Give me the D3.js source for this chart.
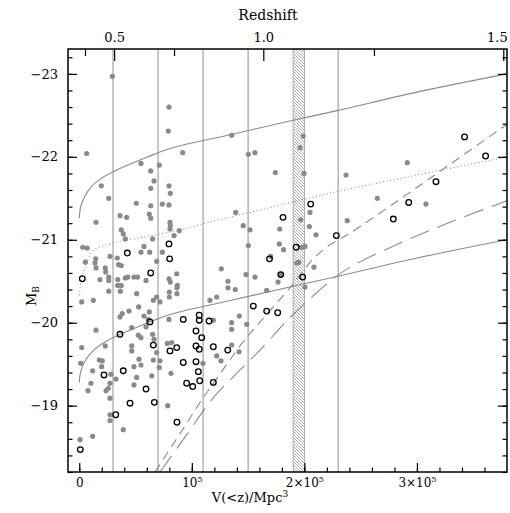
<!DOCTYPE html>
<html><head><meta charset="utf-8">
<script src="https://cdn.jsdelivr.net/npm/d3@7"></script>
<style>
body{margin:0;background:#fff}
svg{display:block}
text{font-family:"DejaVu Serif","Liberation Serif",serif;fill:#000}
</style>
</head><body>
<svg id="c" width="510" height="513"></svg>
<script>
// ---------- DATA (V in units of 10^3 Mpc^3, M = absolute B magnitude) ----------
const vMajorTicks = [0, 100, 200, 300];
const vMajorLabels = [["0",""],["10","5"],["2×10","5"],["3×10","5"]];
const vMinorTicks = d3.range(0, 380, 20);
const mMajorTicks = [-19, -20, -21, -22, -23];
const mMinorTicks = d3.range(-18.2, -23.31, -0.2).map(v => +v.toFixed(1));
const redshiftTicks = [0.25, 0.5, 0.75, 1.0, 1.25, 1.5];
const redshiftTickV = [5.1, 31.0, 84.2, 163.5, 261.8, 376.7];
const redshiftLabels = ["", "0.5", "", "1.0", "", "1.5"];
const binEdgesV = [30, 70, 110, 150, 230];
const hatchBandV = [190, 200];

const upperSolid = [[0,-21.26],[1.3,-21.40],[4.8,-21.52],[10.7,-21.64],[19.6,-21.74],[30,-21.82],[43.3,-21.90],[61.1,-22.00],[80.6,-22.10],[135,-22.27],[190,-22.44],[230,-22.56],[300,-22.78],[380,-23.00]];
const lowerSolid = [[0,-19.28],[1.3,-19.41],[4.8,-19.53],[10.7,-19.64],[19.6,-19.74],[30,-19.82],[43.3,-19.90],[61.1,-20.00],[80.6,-20.10],[135,-20.27],[190,-20.44],[230,-20.56],[300,-20.78],[380,-21.00]];
const dottedCurve = [[0,-20.33],[2,-20.52],[5,-20.66],[12.5,-20.87],[30,-20.96],[60,-21.04],[90,-21.12],[115,-21.21],[170,-21.39],[222,-21.56],[300,-21.78],[380,-22.00]];
const shortDashCurve = [[67.3,-18.20],[89.4,-18.66],[109.8,-19.09],[118.8,-19.26],[142.8,-19.72],[160.6,-20.01],[187.2,-20.42],[198.8,-20.62],[207.7,-20.77],[222.8,-20.94],[240.6,-21.08],[285,-21.49],[329.4,-21.91],[381.8,-22.41]];
const longDashCurve = [[71.7,-18.20],[93.9,-18.62],[118.8,-19.09],[142.8,-19.43],[160.6,-19.67],[187.2,-20.06],[222.8,-20.50],[240.6,-20.67],[285,-20.96],[329.4,-21.21],[381.8,-21.48]];

const filledGalaxies = [
[29.4,-22.97],[79.7,-22.60],[79.1,-22.31],[6.6,-22.04],[91.9,-22.05],[54.8,-21.92],[71.1,-21.90],[63.5,-21.83],[66.4,-21.71],[19.6,-21.65],
[63.5,-21.62],[79.7,-21.65],[80.9,-21.56],[26.2,-21.50],[50.7,-21.44],[63.5,-21.41],[73.8,-21.43],[79.7,-21.42],[62.2,-21.31],[63.5,-21.26],
[36.2,-21.29],[42.1,-21.27],[14.9,-21.21],[80.6,-21.21],[80.9,-21.17],[80.6,-21.13],[88.9,-21.11],[37.3,-21.12],[39.1,-21.07],[40.9,-21.01],
[84.2,-21.05],[65.2,-21.01],[3.1,-20.91],[7.1,-20.90],[57.5,-20.92],[54.8,-20.85],[62.6,-20.85],[73.8,-20.85],[27.3,-20.80],[33.8,-20.78],
[68.8,-20.74],[5.4,-20.73],[14.6,-20.77],[14.0,-20.72],[35.0,-20.70],[37.3,-20.69],[14.9,-20.66],[23.1,-20.66],[23.5,-20.61],[86.6,-20.59],
[18.4,-20.52],[26.2,-20.55],[26.2,-20.51],[34.2,-20.52],[40.9,-20.54],[43.0,-20.55],[48.6,-20.55],[51.8,-20.55],[59.3,-20.51],[79.7,-20.53],
[80.9,-20.49],[87.1,-20.45],[86.8,-20.42],[34.2,-20.45],[37.3,-20.45],[26.2,-20.38],[36.5,-20.38],[51.0,-20.35],[68.8,-20.31],[80.0,-20.37],
[80.0,-20.31],[86.8,-20.35],[12.5,-20.27],[2.2,-20.25],[65.8,-20.27],[71.7,-20.25],[52.8,-20.19],[38.2,-20.11],[44.2,-20.14],[36.2,-20.07],
[62.2,-20.13],[57.5,-20.08],[61.3,-20.04],[79.7,-20.04],[14.9,-19.91],[46.6,-19.94],[59.3,-19.95],[52.5,-19.85],[54.8,-19.82],[65.2,-19.86],
[66.4,-19.80],[78.2,-19.75],[82.1,-19.76],[23.1,-19.72],[46.6,-19.72],[46.6,-19.66],[68.8,-19.64],[2.2,-19.70],[17.8,-19.55],[20.5,-19.54],
[53.1,-19.56],[65.8,-19.55],[71.7,-19.54],[54.8,-19.49],[48.6,-19.47],[19.9,-19.47],[71.1,-19.46],[1.3,-19.51],[11.9,-19.42],[28.2,-19.38],
[32.6,-19.32],[51.0,-19.34],[64.4,-19.36],[81.5,-19.39],[10.4,-19.27],[27.3,-19.27],[25.8,-19.21],[23.8,-19.18],[7.8,-19.18],[48.6,-19.25],
[27.3,-19.09],[78.6,-19.00],[27.3,-18.89],[27.3,-18.82],[39.1,-18.71],[0.7,-18.59],[11.9,-18.63],
[135.4,-22.26],[199.0,-22.25],[150.2,-22.03],[156.1,-22.05],[196.1,-22.11],[174.2,-21.81],[199.7,-21.80],[237.0,-21.78],[291.4,-21.93],[264.8,-21.50],
[308.0,-21.43],[238.1,-21.23],[139.0,-21.33],[145.7,-21.17],[151.7,-21.12],[178.1,-21.13],[196.7,-21.24],[205.0,-21.33],[204.4,-21.16],[210.3,-21.06],
[150.2,-20.93],[177.7,-20.95],[181.5,-20.88],[170.1,-20.80],[197.6,-20.91],[200.5,-20.92],[193.2,-20.72],[195.0,-20.73],[126.2,-20.65],[208.5,-20.67],
[132.1,-20.50],[148.1,-20.58],[156.1,-20.55],[176.6,-20.49],[132.1,-20.42],[138.6,-20.40],[166.5,-20.39],[200.5,-20.43],[122.1,-20.31],[116.1,-20.27],
[142.2,-20.08],[135.4,-20.00],[135.4,-19.92],[119.1,-20.03],[148.8,-19.98],[109.9,-19.51],[135.4,-19.73],[141.9,-19.65],[122.1,-19.60],[125.9,-19.54],
[179.0,-20.58]
];
const openGalaxies = [
[2.7,-20.53],[42.7,-20.84],[79.7,-20.95],[80.3,-20.77],[63.5,-20.60],[36.2,-19.86],[62.8,-20.01],[92.4,-20.04],[106.6,-20.09],[106.6,-20.03],
[115.3,-20.02],[103.7,-19.90],[108.8,-19.82],[65.8,-19.73],[80.6,-19.66],[86.6,-19.70],[103.7,-19.72],[106.6,-19.68],[92.4,-19.52],[103.7,-19.53],
[105.8,-19.41],[107.0,-19.30],[95.4,-19.27],[100.8,-19.23],[39.1,-19.42],[22.0,-19.37],[59.3,-19.20],[66.7,-19.04],[45.1,-19.03],[32.4,-18.89],
[86.8,-18.80],[0.9,-18.47],[205.6,-21.43],[181.0,-21.27],[192.7,-20.91],[169.0,-20.77],[179.0,-20.58],[198.5,-20.55],[228.4,-21.05],[154.6,-20.20],
[166.5,-20.14],[176.3,-20.12],[119.1,-19.71],[131.9,-19.67],[119.1,-19.28],[342.3,-22.24],[361.0,-22.01],[316.9,-21.70],[292.7,-21.45],[279.0,-21.25]
];

// ---------- CHART ----------
const svg = d3.select("#c");
const L = 68, R = 507, T = 49, B = 472;
const x = d3.scaleLinear().domain([-10, 380]).range([L, R]);
const y = d3.scaleLinear().domain([-18.2, -23.3]).range([B, T]);
const grey = "#8a8a8a";

const defs = svg.append("defs");
defs.append("clipPath").attr("id","clip").append("rect")
  .attr("x",L).attr("y",T).attr("width",R-L).attr("height",B-T);
const pat = defs.append("pattern").attr("id","hatch").attr("patternUnits","userSpaceOnUse")
  .attr("width",3).attr("height",3);
pat.append("path").attr("d","M-1,-1L4,4M-1,2L1,4M2,-1L4,1")
  .attr("stroke","#8a8a8a").attr("stroke-width",0.7);

const plot = svg.append("g").attr("clip-path","url(#clip)");

// bin edges
plot.selectAll("line.bin").data(binEdgesV).join("line").attr("class","bin")
  .attr("x1",d=>x(d)).attr("x2",d=>x(d)).attr("y1",T).attr("y2",B)
  .attr("stroke","#999").attr("stroke-width",1.1);

// hatched band
plot.append("rect").attr("x",x(hatchBandV[0])).attr("y",T)
  .attr("width",x(hatchBandV[1])-x(hatchBandV[0])).attr("height",B-T)
  .attr("fill","url(#hatch)").attr("stroke","#999").attr("stroke-width",0.8);

const line = d3.line().x(d=>x(d[0])).y(d=>y(d[1])).curve(d3.curveCatmullRom);
const curves = [
  [upperSolid, null],[lowerSolid, null],[dottedCurve,"1,2.6"],
  [shortDashCurve,"9,6"],[longDashCurve,"20,9"]
];
curves.forEach(([data,dash])=>{
  plot.append("path").datum(data).attr("d",line).attr("fill","none")
    .attr("stroke",grey).attr("stroke-width",1.1)
    .attr("stroke-dasharray",dash);
});

// points
plot.selectAll("circle.f").data(filledGalaxies).join("circle").attr("class","f")
  .attr("cx",d=>x(d[0])).attr("cy",d=>y(d[1])).attr("r",2.6).attr("fill",grey);
plot.selectAll("circle.o").data(openGalaxies).join("circle").attr("class","o")
  .attr("cx",d=>x(d[0])).attr("cy",d=>y(d[1])).attr("r",2.8)
  .attr("fill","none").attr("stroke","#000").attr("stroke-width",1.3);

// axes
function styleAxis(g){ g.select(".domain").remove(); g.selectAll(".tick line").attr("stroke","#000").attr("stroke-width",1.2); }
svg.append("g").attr("transform",`translate(0,${B})`)
  .call(d3.axisBottom(x).tickValues(vMinorTicks).tickSize(-4.5).tickFormat(""))
  .call(styleAxis);
const bx = svg.append("g").attr("transform",`translate(0,${B})`)
  .call(d3.axisBottom(x).tickValues(vMajorTicks).tickSize(-9).tickPadding(6).tickFormat(""))
  .call(styleAxis);
bx.selectAll(".tick text").each(function(d,i){
  const t = d3.select(this).attr("font-size",12).attr("font-family",null);
  t.append("tspan").text(vMajorLabels[i][0]);
  if (vMajorLabels[i][1]) t.append("tspan").attr("font-size",8).attr("dy",-4.5).text(vMajorLabels[i][1]);
});

svg.append("g").attr("transform",`translate(${L},0)`)
  .call(d3.axisLeft(y).tickValues(mMinorTicks).tickSize(-4.5).tickFormat("")).call(styleAxis);
svg.append("g").attr("transform",`translate(${L},0)`)
  .call(d3.axisLeft(y).tickValues(mMajorTicks).tickSize(-9).tickPadding(10).tickFormat(d=>"−"+Math.abs(d)))
  .call(styleAxis).selectAll("text").attr("font-size",13).attr("font-family",null);
svg.append("g").attr("transform",`translate(${R},0)`)
  .call(d3.axisRight(y).tickValues(mMinorTicks).tickSize(-4.5).tickFormat("")).call(styleAxis);
svg.append("g").attr("transform",`translate(${R},0)`)
  .call(d3.axisRight(y).tickValues(mMajorTicks).tickSize(-9).tickFormat("")).call(styleAxis);

const topMinor = redshiftTickV.filter((v,i)=>redshiftLabels[i]==="");
const topMajor = redshiftTickV.filter((v,i)=>redshiftLabels[i]!=="");
svg.append("g").attr("transform",`translate(0,${T})`)
  .call(d3.axisTop(x).tickValues(topMinor).tickSize(-7).tickFormat("")).call(styleAxis);
const tx = svg.append("g").attr("transform",`translate(0,${T})`)
  .call(d3.axisTop(x).tickValues(topMajor).tickSize(-12).tickPadding(7)
    .tickFormat(v=>redshiftLabels[redshiftTickV.indexOf(v)]))
  .call(styleAxis);
tx.selectAll("text").attr("font-size",13).attr("font-family",null)
  .filter((d,i,n)=>i===n.length-1).attr("text-anchor","end").attr("dx",4);

// frame
svg.append("rect").attr("x",L).attr("y",T).attr("width",R-L).attr("height",B-T)
  .attr("fill","none").attr("stroke","#000").attr("stroke-width",1.5);

// titles
svg.append("text").attr("x",268).attr("y",20).attr("text-anchor","middle").attr("font-size",14).text("Redshift");
const xt = svg.append("text").attr("x",250).attr("y",502).attr("text-anchor","middle").attr("font-size",13);
xt.append("tspan").text("V(<z)/Mpc");
xt.append("tspan").attr("font-size",9).attr("dy",-5).text("3");
const yt = svg.append("text").attr("transform","translate(36,296) rotate(-90)").attr("text-anchor","middle").attr("font-size",13);
yt.append("tspan").text("M");
yt.append("tspan").attr("font-size",9).attr("dy",3).text("B");
</script>
</body></html>
